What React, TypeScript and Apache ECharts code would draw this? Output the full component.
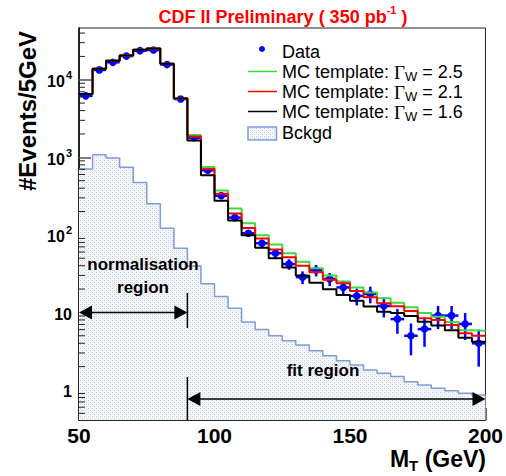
import React, { useEffect, useRef } from "react";
import * as echarts from "echarts";

// ---- data ----
const binEdges = [50, 55, 60, 65, 70, 75, 80, 85, 90, 95, 100, 105, 110, 115, 120, 125, 130, 135, 140, 145, 150, 155, 160, 165, 170, 175, 180, 185, 190, 195, 200];
const binWidth = 5;

const dataValues = [6200, 13400, 16800, 20200, 23700, 24200, 15700, 5650, 1790, 680, 320, 167, 105, 78, 58, 42, 28.5, 35, 27, 21, 16.3, 17.3, 12.1, 8.2, 5.0, 6.1, 9.1, 9.1, 7.1, 4.0];
const dataErrors = [79, 116, 130, 142, 154, 156, 125, 75, 42, 26, 18, 13, 10, 8.8, 7.6, 6.5, 5.3, 5.9, 5.2, 4.6, 4.0, 4.2, 3.5, 2.9, 2.2, 2.5, 3.0, 3.0, 2.7, 2.0];

const mcGamma25 = [6540, 13900, 17600, 20500, 24400, 25300, 16100, 5740, 1933, 750, 373, 219, 141, 99, 75, 58, 45, 37, 30, 25, 20.9, 18, 15.2, 13.3, 11.7, 9.8, 8.8, 7.5, 5.9, 5.8];
const mcGamma21 = [6540, 13900, 17600, 20500, 24400, 25300, 16100, 5740, 1860, 705, 338, 188, 123, 90, 65, 51.5, 40, 33, 26.3, 23.8, 18.9, 15.7, 13.1, 12.0, 10.4, 8.4, 8.0, 6.9, 5.4, 5.0];
const mcGamma16 = [6540, 13900, 17600, 20500, 24400, 25300, 16100, 5740, 1650, 585, 276, 153, 99, 68, 50, 38, 30, 24.2, 19.9, 16.8, 14.1, 11.9, 10.2, 9.8, 9.0, 7.6, 6.8, 5.9, 4.7, 4.2];
const background = [705, 1076, 977, 747, 473, 251, 122, 67, 39.8, 23.5, 16, 11.3, 7.5, 6.0, 5.0, 4.3, 3.8, 3.2, 2.77, 2.39, 2.1, 1.81, 1.64, 1.49, 1.28, 1.16, 1.05, 0.98, 0.91, 0.86];

const xTickLabels = ["50", "100", "150", "200"];
const yMinorMultipliers = [2, 3, 4, 5, 6, 7, 8, 9];
const yDecades = [0.1, 1, 10, 100, 1000, 10000];

// annotation positions in data units: [xFrom, xTo, y]
const normArrow = [50, 90, 10];
const fitArrow = [90, 200, 0.765];
// vertical markers: [x, yLow, yHigh]
const markers = [
  [90, 6.3, 17.8],
  [90, 0.41, 1.47],
];

const X_MIN = 50, X_MAX = 200, Y_MIN = 0.41, Y_MAX = 46500;

const FONT = "'Liberation Sans', Arial, Helvetica, sans-serif";

function stepData(vals: number[]) {
  return binEdges.map((x, i) => [x, vals[Math.min(i, vals.length - 1)]]);
}

export default function App() {
  const ref = useRef<HTMLDivElement>(null);

  useEffect(() => {
    if (!ref.current) return;
    const chart = echarts.init(ref.current, undefined, { renderer: "svg" });

    const cv = document.createElement("canvas");
    cv.width = 4;
    cv.height = 4;
    const ctx = cv.getContext("2d");
    if (ctx) {
      ctx.fillStyle = "#f6f7fb";
      ctx.fillRect(0, 0, 4, 4);
      ctx.fillStyle = "#c3cde3";
      ctx.fillRect(0, 0, 1, 1);
      ctx.fillRect(2, 2, 1, 1);
      ctx.fillStyle = "#e4e9f3";
      ctx.fillRect(2, 0, 1, 1);
      ctx.fillRect(0, 2, 1, 1);
    }

    const minorTicks: number[] = [];
    yDecades.forEach((d) =>
      yMinorMultipliers.forEach((m) => {
        const v = d * m;
        if (v > Y_MIN && v < Y_MAX) minorTicks.push(v);
      })
    );

    const dataPoints = dataValues.map((v, i) => [binEdges[i] + binWidth / 2, v, dataErrors[i]]);

    const mcLine = (name: string, vals: number[], color: string) => ({
      name,
      type: "line",
      step: "end",
      data: stepData(vals),
      symbol: "none",
      lineStyle: { color, width: 2 },
      silent: true,
    });

    const Z = 100;

    const option: any = {
      animation: false,
      grid: { left: 79, right: 19, top: 28, bottom: 56, show: true, borderColor: "#222", borderWidth: 1 },
      xAxis: {
        type: "value",
        min: X_MIN,
        max: X_MAX,
        interval: 50,
        axisLine: { lineStyle: { color: "#000", width: 1.5 } },
        axisTick: { inside: true, length: 12, lineStyle: { color: "#333", width: 1.5 } },
        minorTick: { show: true, splitNumber: 5, length: 6, lineStyle: { color: "#222", width: 1 } },
        splitLine: { show: false },
        axisLabel: {
          margin: 5,
          fontFamily: FONT,
          fontWeight: "bold",
          fontSize: 21,
          color: "#000",
          formatter: (v: number) => (xTickLabels.includes(String(v)) ? String(v) : ""),
        },
      },
      yAxis: {
        type: "log",
        min: Y_MIN,
        max: Y_MAX,
        axisLine: { lineStyle: { color: "#000", width: 1.5 } },
        axisTick: { inside: true, length: 12, lineStyle: { color: "#555", width: 1.5 } },
        splitLine: { show: false },
        axisLabel: {
          margin: 7,
          showMinLabel: false,
          showMaxLabel: false,
          color: "#000",
          formatter: (v: number) => {
            const l = Math.log10(v);
            const e = Math.round(l);
            if (Math.abs(l - e) > 1e-6) return "";
            if (e === 0) return "{b|1}";
            if (e === 1) return "{b|10}";
            return `{b|10}{s|${e}}`;
          },
          rich: {
            b: { fontFamily: FONT, fontWeight: "bold", fontSize: 16, color: "#000", lineHeight: 20, verticalAlign: "bottom" },
            s: { fontFamily: FONT, fontWeight: "bold", fontSize: 11, color: "#000", lineHeight: 20, verticalAlign: "top", padding: [0, 0, 0, 1] },
          },
        },
      },
      series: [
        {
          name: "Bckgd",
          type: "line",
          step: "end",
          data: stepData(background),
          symbol: "none",
          lineStyle: { color: "#7f9cd8", width: 1.5 },
          areaStyle: { origin: "start", color: { image: cv, repeat: "repeat" }, opacity: 1 },
          silent: true,
        },
        mcLine("MC template: Γ_W = 2.5", mcGamma25, "#3ddc3d"),
        mcLine("MC template: Γ_W = 2.1", mcGamma21, "#ff0000"),
        mcLine("MC template: Γ_W = 1.6", mcGamma16, "#000000"),
        {
          name: "Data",
          type: "custom",
          data: dataPoints,
          encode: { x: 0, y: 1 },
          renderItem: (params: any, api: any) => {
            const c = api.value(0), v = api.value(1), e = api.value(2);
            const p = api.coord([c, v]);
            const pl = api.coord([c - binWidth / 2, v]);
            const pr = api.coord([c + binWidth / 2, v]);
            const pt = api.coord([c, v + e]);
            const pb = api.coord([c, Math.max(v - e, Y_MIN)]);
            const col = "#0000ff";
            return {
              type: "group",
              children: [
                { type: "line", shape: { x1: pl[0], y1: pl[1], x2: pr[0], y2: pr[1] }, style: { stroke: col, lineWidth: 2.5 } },
                { type: "line", shape: { x1: pt[0], y1: pt[1], x2: pb[0], y2: pb[1] }, style: { stroke: col, lineWidth: 2.5 } },
                { type: "circle", shape: { cx: p[0], cy: p[1], r: 3.8 }, style: { fill: col } },
              ],
            };
          },
          silent: true,
        },
        {
          name: "yMinorTicks",
          type: "custom",
          data: minorTicks.map((v) => [X_MIN, v]),
          encode: { x: 0, y: 1 },
          renderItem: (params: any, api: any) => {
            const p = api.coord([api.value(0), api.value(1)]);
            return { type: "line", shape: { x1: p[0], y1: p[1], x2: p[0] + 6, y2: p[1] }, style: { stroke: "#222", lineWidth: 1 } };
          },
          silent: true,
          z: 5,
        },
        {
          name: "arrows",
          type: "custom",
          data: [normArrow, fitArrow],
          encode: { x: [0, 1], y: 2 },
          renderItem: (params: any, api: any) => {
            const y = api.value(2);
            const p1 = api.coord([api.value(0), y]);
            const p2 = api.coord([api.value(1), y]);
            const L = 13, W = 7;
            return {
              type: "group",
              children: [
                { type: "line", shape: { x1: p1[0] + L - 1, y1: p1[1], x2: p2[0] - L + 1, y2: p2[1] }, style: { stroke: "#000", lineWidth: 1.5 } },
                { type: "polygon", shape: { points: [[p1[0], p1[1]], [p1[0] + L, p1[1] - W], [p1[0] + L, p1[1] + W]] }, style: { fill: "#000" } },
                { type: "polygon", shape: { points: [[p2[0], p2[1]], [p2[0] - L, p2[1] - W], [p2[0] - L, p2[1] + W]] }, style: { fill: "#000" } },
              ],
            };
          },
          silent: true,
          z: 6,
        },
        {
          name: "markers",
          type: "custom",
          data: markers,
          encode: { x: 0, y: [1, 2] },
          renderItem: (params: any, api: any) => {
            const a = api.coord([api.value(0), api.value(1)]);
            const b = api.coord([api.value(0), api.value(2)]);
            return { type: "line", shape: { x1: a[0], y1: a[1], x2: b[0], y2: b[1] }, style: { stroke: "#000", lineWidth: 1.5 } };
          },
          silent: true,
          z: 6,
        },
      ],
      graphic: [
        {
          type: "text",
          z: Z,
          x: 283,
          y: 15,
          style: {
            text: "{t|CDF II Preliminary ( 350 pb}{s|-1}{t| )}",
            align: "center",
            verticalAlign: "middle",
            rich: {
              t: { fontFamily: FONT, fontWeight: "bold", fontSize: 18, fill: "#ff0000", lineHeight: 22, verticalAlign: "bottom" },
              s: { fontFamily: FONT, fontWeight: "bold", fontSize: 11, fill: "#ff0000", lineHeight: 22, verticalAlign: "top" },
            },
          },
        },
        {
          type: "text",
          z: Z,
          x: 27,
          y: 111,
          rotation: Math.PI / 2,
          style: { text: "#Events/5GeV", fontFamily: FONT, fontWeight: "bold", fontSize: 24, fill: "#000", align: "center", verticalAlign: "middle" },
        },
        {
          type: "text",
          z: Z,
          x: 486,
          y: 460,
          style: {
            text: "{t|M}{s|T}{t| (GeV)}",
            align: "right",
            verticalAlign: "middle",
            rich: {
              t: { fontFamily: FONT, fontWeight: "bold", fontSize: 23, fill: "#000", lineHeight: 26, verticalAlign: "top" },
              s: { fontFamily: FONT, fontWeight: "bold", fontSize: 15, fill: "#000", lineHeight: 26, verticalAlign: "bottom" },
            },
          },
        },
        {
          type: "text",
          z: Z,
          x: 143,
          y: 264,
          style: { text: "normalisation", fontFamily: FONT, fontWeight: "bold", fontSize: 17, fill: "#000", align: "center", verticalAlign: "middle" },
        },
        {
          type: "text",
          z: Z,
          x: 143,
          y: 287,
          style: { text: "region", fontFamily: FONT, fontWeight: "bold", fontSize: 17, fill: "#000", align: "center", verticalAlign: "middle" },
        },
        {
          type: "text",
          z: Z,
          x: 323,
          y: 370,
          style: { text: "fit region", fontFamily: FONT, fontWeight: "bold", fontSize: 17, fill: "#000", align: "center", verticalAlign: "middle" },
        },
        // legend
        { type: "circle", z: Z, shape: { cx: 262, cy: 49, r: 3 }, style: { fill: "#0000ff" } },
        { type: "text", z: Z, x: 282, y: 52, style: { text: "Data", fontFamily: FONT, fontSize: 18, fill: "#000", verticalAlign: "middle" } },
        { type: "line", z: Z, shape: { x1: 248, y1: 71.5, x2: 277, y2: 71.5 }, style: { stroke: "#3ddc3d", lineWidth: 1.5 } },
        { type: "line", z: Z, shape: { x1: 248, y1: 91.5, x2: 277, y2: 91.5 }, style: { stroke: "#ff0000", lineWidth: 1.5 } },
        { type: "line", z: Z, shape: { x1: 248, y1: 111.5, x2: 277, y2: 111.5 }, style: { stroke: "#000", lineWidth: 1.5 } },
        ...["2.5", "2.1", "1.6"].map((g, i) => ({
          type: "text",
          z: Z,
          x: 282,
          y: 72 + 20 * i,
          style: {
            text: `{t|MC template: }{g|Γ}{s|W}{t| = ${g}}`,
            verticalAlign: "middle",
            rich: {
              t: { fontFamily: FONT, fontSize: 18, fill: "#000", lineHeight: 22, verticalAlign: "middle" },
              g: { fontFamily: "'Liberation Serif', 'DejaVu Serif', serif", fontSize: 19, fill: "#000", lineHeight: 22, verticalAlign: "middle" },
              s: { fontFamily: FONT, fontSize: 13, fill: "#000", lineHeight: 22, verticalAlign: "bottom" },
            },
          },
        })),
        {
          type: "rect",
          z: Z,
          shape: { x: 248, y: 127, width: 28.5, height: 13 },
          style: { fill: { image: cv, repeat: "repeat" }, stroke: "#7f9cd8", lineWidth: 1.5 },
        },
        { type: "text", z: Z, x: 282, y: 133, style: { text: "Bckgd", fontFamily: FONT, fontSize: 18, fill: "#000", verticalAlign: "middle" } },
      ],
    };

    chart.setOption(option);
    return () => chart.dispose();
  }, []);

  return <div ref={ref} style={{ position: "fixed", left: 0, top: 0, width: 506, height: 476, background: "#fff" }} />;
}
